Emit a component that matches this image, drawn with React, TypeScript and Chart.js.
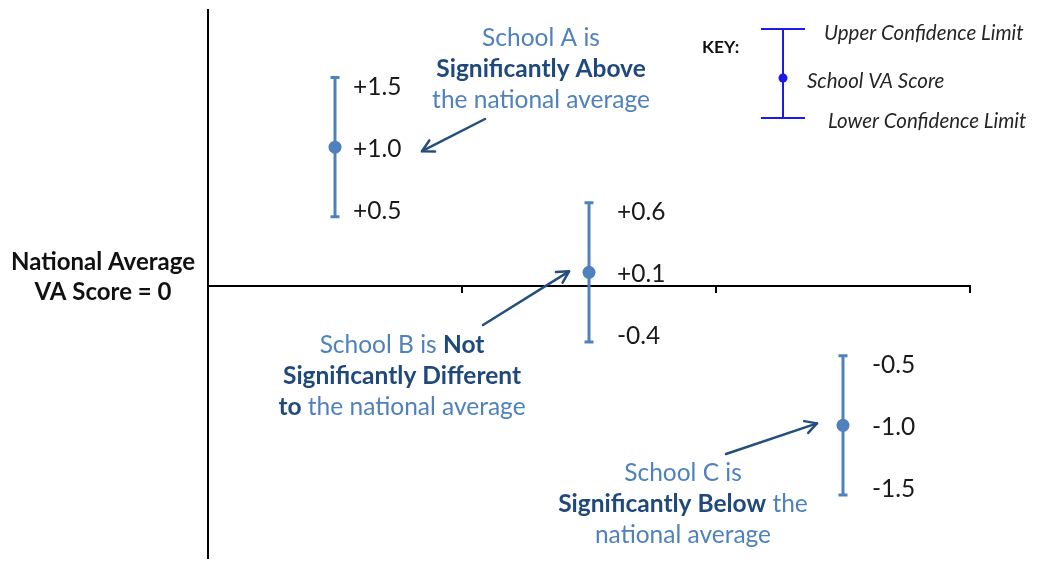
import { useEffect, useRef } from "react";
import { Chart, registerables } from "chart.js";

Chart.register(...registerables);

// ---- data ----
const schools = ["School A", "School B", "School C"];
const scores = [1.0, 0.1, -1.0];
const upperLimits = [1.5, 0.6, -0.5];
const lowerLimits = [0.5, -0.4, -1.5];
const yMin = -1.957;
const yMax = 1.986;

type Run = { t: string; b: boolean };
const annotationLines: Run[][][] = [
  [
    [{ t: "School A is", b: false }],
    [{ t: "Significantly Above", b: true }],
    [{ t: "the national average", b: false }],
  ],
  [
    [
      { t: "School B is ", b: false },
      { t: "Not", b: true },
    ],
    [{ t: "Significantly Different", b: true }],
    [
      { t: "to", b: true },
      { t: " the national average", b: false },
    ],
  ],
  [
    [{ t: "School C is", b: false }],
    [
      { t: "Significantly Below", b: true },
      { t: " the", b: false },
    ],
    [{ t: "national average", b: false }],
  ],
];
const axisLabelLines = ["National Average", "VA Score = 0"];
const keyTitle = "KEY:";
const keyLabels = ["Upper Confidence Limit", "School VA Score", "Lower Confidence Limit"];

// ---- layout / style ----
const W = 1038;
const H = 565;
const FONT = "Lato, 'Open Sans', sans-serif";
const TEXT_SIZE = 24.5;
const MARK = "#4F81BD";
const TEXT_LIGHT = "#4F81BD";
const TEXT_DARK = "#1F497D";
const ARROW = "#254E7E";
const annotationCenters = [
  { x: 541, y: 38 },
  { x: 402, y: 345 },
  { x: 683, y: 473 },
];
const annotationLineGap = 31;
const arrowTails = [
  { x: 485, y: 119 },
  { x: 483, y: 325 },
  { x: 726, y: 454 },
];
const arrowHeadOffsets = [
  { dx: 87, dy: 4 },
  { dx: -20, dy: -1 },
  { dx: -26, dy: -2 },
];
const labelDx = [18, 28, 29];

const fmt = (v: number) => (v > 0 ? "+" + v.toFixed(1) : v.toFixed(1));

function drawArrow(ctx: CanvasRenderingContext2D, x1: number, y1: number, x2: number, y2: number) {
  const ang = Math.atan2(y2 - y1, x2 - x1);
  const len = 13;
  const spread = 0.5;
  ctx.save();
  ctx.strokeStyle = ARROW;
  ctx.lineWidth = 2.5;
  ctx.lineCap = "round";
  ctx.lineJoin = "round";
  ctx.beginPath();
  ctx.moveTo(x1, y1);
  ctx.lineTo(x2, y2);
  ctx.stroke();
  ctx.beginPath();
  ctx.moveTo(x2 - len * Math.cos(ang - spread), y2 - len * Math.sin(ang - spread));
  ctx.lineTo(x2, y2);
  ctx.lineTo(x2 - len * Math.cos(ang + spread), y2 - len * Math.sin(ang + spread));
  ctx.stroke();
  ctx.restore();
}

function drawRuns(ctx: CanvasRenderingContext2D, runs: Run[], cx: number, cy: number) {
  const fontFor = (b: boolean) => `${b ? "bold " : ""}${TEXT_SIZE}px ${FONT}`;
  let total = 0;
  const widths = runs.map((r) => {
    ctx.font = fontFor(r.b);
    const w = ctx.measureText(r.t).width;
    total += w;
    return w;
  });
  let x = cx - total / 2;
  ctx.textAlign = "left";
  ctx.textBaseline = "middle";
  runs.forEach((r, i) => {
    ctx.font = fontFor(r.b);
    ctx.fillStyle = r.b ? TEXT_DARK : TEXT_LIGHT;
    ctx.fillText(r.t, x, cy);
    x += widths[i];
  });
}

const overlayPlugin = {
  id: "vaOverlay",
  beforeDatasetsDraw(chart: any) {
    const ctx: CanvasRenderingContext2D = chart.ctx;
    const meta = chart.getDatasetMeta(0);
    const y = chart.scales.y;
    ctx.save();
    ctx.strokeStyle = MARK;
    ctx.lineWidth = 3;
    meta.data.forEach((pt: any, i: number) => {
      const yu = y.getPixelForValue(upperLimits[i]);
      const yl = y.getPixelForValue(lowerLimits[i]);
      ctx.beginPath();
      ctx.moveTo(pt.x, yu);
      ctx.lineTo(pt.x, yl);
      ctx.moveTo(pt.x - 4.5, yu);
      ctx.lineTo(pt.x + 4.5, yu);
      ctx.moveTo(pt.x - 4.5, yl);
      ctx.lineTo(pt.x + 4.5, yl);
      ctx.stroke();
    });
    ctx.restore();
  },
  afterDraw(chart: any) {
    const ctx: CanvasRenderingContext2D = chart.ctx;
    const meta = chart.getDatasetMeta(0);
    const y = chart.scales.y;
    ctx.save();
    // value labels
    ctx.fillStyle = "#1a1a1a";
    ctx.font = `${TEXT_SIZE}px ${FONT}`;
    ctx.textAlign = "left";
    ctx.textBaseline = "middle";
    meta.data.forEach((pt: any, i: number) => {
      const x = pt.x + labelDx[i];
      ctx.fillText(fmt(upperLimits[i]), x, y.getPixelForValue(upperLimits[i]) + 9);
      ctx.fillText(fmt(scores[i]), x, y.getPixelForValue(scores[i]) + 2);
      ctx.fillText(fmt(lowerLimits[i]), x, y.getPixelForValue(lowerLimits[i]) - 6);
    });
    // annotations
    annotationLines.forEach((lines, i) => {
      const c = annotationCenters[i];
      lines.forEach((runs, j) => drawRuns(ctx, runs, c.x, c.y + j * annotationLineGap));
    });
    // arrows
    meta.data.forEach((pt: any, i: number) => {
      const t = arrowTails[i];
      const o = arrowHeadOffsets[i];
      drawArrow(ctx, t.x, t.y, pt.x + o.dx, pt.y + o.dy);
    });
    // axis label
    ctx.fillStyle = "#111";
    ctx.font = `bold 24px ${FONT}`;
    ctx.textAlign = "center";
    axisLabelLines.forEach((l, j) => ctx.fillText(l, 103, 262 + j * 30));
    // key
    ctx.fillStyle = "#111";
    ctx.font = `bold 17.5px ${FONT}`;
    ctx.textAlign = "left";
    ctx.fillText(keyTitle, 702, 47);
    ctx.strokeStyle = "#1a1aee";
    ctx.lineWidth = 2;
    ctx.beginPath();
    ctx.moveTo(783, 29);
    ctx.lineTo(783, 118);
    ctx.moveTo(761, 29);
    ctx.lineTo(805, 29);
    ctx.moveTo(761, 118);
    ctx.lineTo(805, 118);
    ctx.stroke();
    ctx.fillStyle = "#1a1aee";
    ctx.beginPath();
    ctx.arc(783, 78, 4.5, 0, Math.PI * 2);
    ctx.fill();
    ctx.fillStyle = "#262626";
    ctx.font = `italic 20.5px ${FONT}`;
    ctx.fillText(keyLabels[0], 824, 33);
    ctx.fillText(keyLabels[1], 807, 81);
    ctx.fillText(keyLabels[2], 828, 121);
    ctx.restore();
  },
};

export default function App() {
  const ref = useRef<HTMLCanvasElement | null>(null);
  useEffect(() => {
    if (!ref.current) return;
    const chart = new Chart(ref.current, {
      type: "line",
      data: {
        labels: schools,
        datasets: [
          {
            label: "School VA Score",
            data: scores,
            showLine: false,
            pointRadius: 6.5,
            pointHoverRadius: 6.5,
            pointBackgroundColor: MARK,
            pointBorderColor: MARK,
            pointBorderWidth: 0,
          },
        ],
      },
      options: {
        responsive: false,
        animation: false,
        devicePixelRatio: 1,
        layout: { padding: { left: 208, top: 10, right: 68, bottom: 3 } },
        plugins: { legend: { display: false }, tooltip: { enabled: false } },
        scales: {
          x: {
            type: "category",
            offset: true,
            position: { y: 0 } as any,
            grid: {
              display: true,
              offset: true,
              drawOnChartArea: false,
              drawTicks: true,
              tickLength: 6,
              color: "#000",
              lineWidth: 2,
            },
            border: { display: true, color: "#000", width: 2 },
            ticks: { display: false },
          },
          y: {
            type: "linear",
            min: yMin,
            max: yMax,
            position: "left",
            grid: { display: true, drawOnChartArea: false, drawTicks: false },
            border: { display: true, color: "#000", width: 2 },
            ticks: { display: false },
          },
        },
      },
      plugins: [overlayPlugin],
    });
    return () => chart.destroy();
  }, []);
  return (
    <div style={{ position: "absolute", left: 0, top: 0, width: W, height: H, background: "#fff" }}>
      <canvas ref={ref} width={W} height={H} style={{ width: W, height: H, display: "block" }} />
    </div>
  );
}
